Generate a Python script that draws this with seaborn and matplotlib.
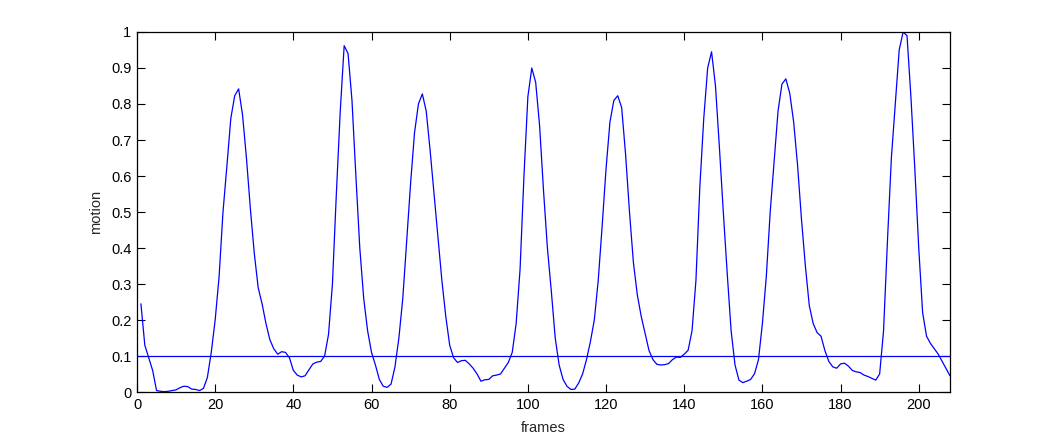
import numpy as np
import matplotlib
matplotlib.use("Agg")
import matplotlib.pyplot as plt
import seaborn as sns

# motion values, one per frame (frames 1..208)
motion = [
    0.245, 0.13, 0.095, 0.06, 0.004, 0.002, 0.001, 0.002, 0.004, 0.006,
    0.012, 0.016, 0.015, 0.008, 0.007, 0.004, 0.01, 0.04, 0.11, 0.2,
    0.32, 0.5, 0.628, 0.76, 0.823, 0.842, 0.77, 0.65, 0.51, 0.386,
    0.29, 0.245, 0.19, 0.145, 0.12, 0.105, 0.112, 0.11, 0.095, 0.06,
    0.047, 0.042, 0.045, 0.062, 0.078, 0.083, 0.085, 0.1, 0.16, 0.3,
    0.55, 0.78, 0.962, 0.94, 0.81, 0.6, 0.4, 0.26, 0.17, 0.11,
    0.075, 0.035, 0.016, 0.013, 0.022, 0.07, 0.15, 0.26, 0.42, 0.58,
    0.72, 0.8, 0.828, 0.78, 0.67, 0.55, 0.43, 0.31, 0.21, 0.13,
    0.095, 0.082, 0.087, 0.088, 0.078, 0.066, 0.05, 0.03, 0.034, 0.035,
    0.045, 0.047, 0.05, 0.066, 0.082, 0.11, 0.19, 0.34, 0.6, 0.82,
    0.9, 0.86, 0.74, 0.56, 0.4, 0.28, 0.15, 0.075, 0.035, 0.016,
    0.007, 0.008, 0.025, 0.05, 0.09, 0.14, 0.2, 0.31, 0.46, 0.62,
    0.75, 0.81, 0.823, 0.79, 0.66, 0.5, 0.36, 0.27, 0.21, 0.163,
    0.115, 0.09, 0.077, 0.075, 0.076, 0.079, 0.09, 0.097, 0.096, 0.105,
    0.116, 0.17, 0.31, 0.57, 0.76, 0.9, 0.945, 0.85, 0.68, 0.5,
    0.33, 0.17, 0.075, 0.033, 0.026, 0.03, 0.035, 0.051, 0.09, 0.19,
    0.32, 0.5, 0.64, 0.78, 0.855, 0.87, 0.83, 0.75, 0.63, 0.48,
    0.35, 0.24, 0.19, 0.165, 0.155, 0.115, 0.085, 0.07, 0.066, 0.078,
    0.08, 0.072, 0.06, 0.056, 0.054, 0.047, 0.043, 0.038, 0.033, 0.05,
    0.17, 0.42, 0.65, 0.8, 0.95, 1.0, 0.99, 0.82, 0.62, 0.4,
    0.22, 0.155, 0.135, 0.12, 0.105, 0.085, 0.065, 0.045,
]
frames = list(range(1, len(motion) + 1))
threshold = 0.1

xticks = [0, 20, 40, 60, 80, 100, 120, 140, 160, 180, 200]
yticks = [0, 0.1, 0.2, 0.3, 0.4, 0.5, 0.6, 0.7, 0.8, 0.9, 1]
yticklabels = ["0", "0.1", "0.2", "0.3", "0.4", "0.5", "0.6", "0.7", "0.8", "0.9", "1"]

sns.set_style("ticks")
plt.rcParams['font.family'] = ['Liberation Sans', 'DejaVu Sans']

fig = plt.figure(figsize=(10.5, 4.4), dpi=100)
ax = fig.add_axes([137 / 1050, 48 / 440, 813 / 1050, 360 / 440])

sns.lineplot(x=frames, y=motion, ax=ax, color="#0000ff", linewidth=0.9)
ax.axhline(threshold, color="#0000ff", linewidth=0.9)

ax.set_xlim(0, 208)
ax.set_ylim(0, 1)
ax.set_xticks(xticks)
ax.set_yticks(yticks)
ax.set_yticklabels(yticklabels)
ax.tick_params(direction="in", length=6, width=0.8, top=True, right=True,
               labelsize=10.5, colors="black", pad=4)
for s in ax.spines.values():
    s.set_visible(True)
    s.set_linewidth(0.9)
    s.set_color("black")

ax.set_xlabel("frames", fontsize=10.5, labelpad=7)
ax.set_ylabel("motion", fontsize=10.5, labelpad=6)

fig.savefig("out.png", dpi=100, facecolor="white")
